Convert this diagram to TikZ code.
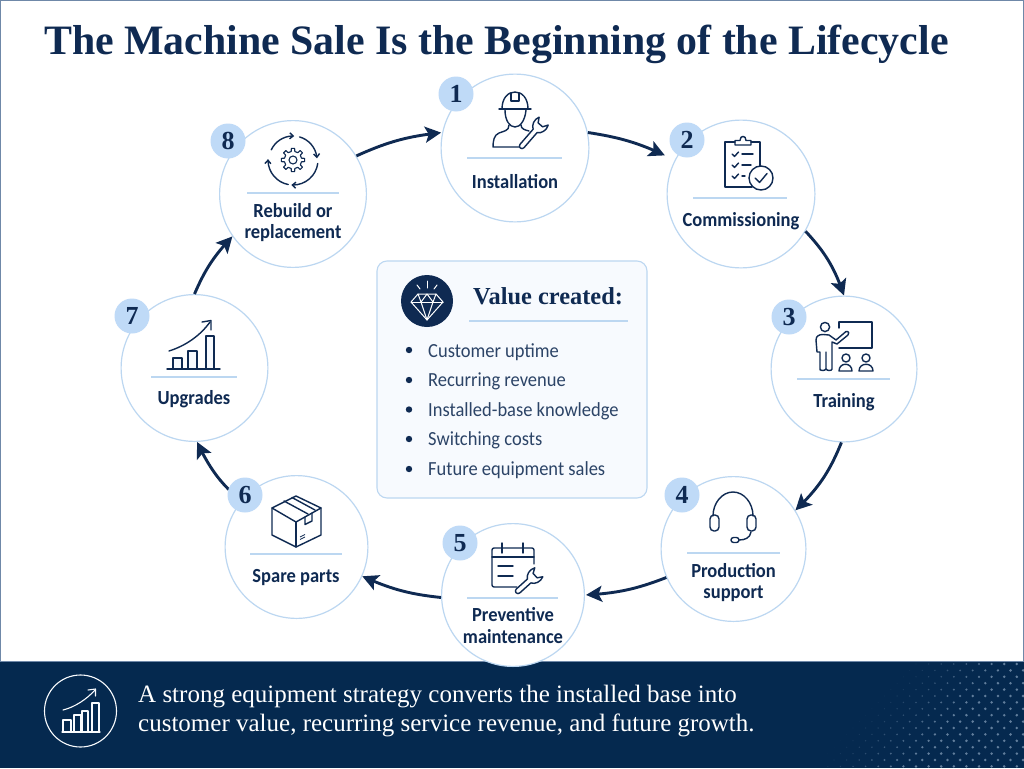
\documentclass[tikz,border=0pt]{standalone}
\usepackage{fontspec}
\setmainfont{Carlito}[FakeStretch=0.925]
\newfontfamily\serifface{Liberation Serif}
\usetikzlibrary{arrows.meta,bending}
\definecolor{navy}{HTML}{0F2A52}
\definecolor{barnavy}{HTML}{05294F}
\definecolor{ringblue}{HTML}{BCD7F1}
\definecolor{badgeblue}{HTML}{BFDAF7}
\definecolor{edgeblue}{HTML}{6F88A8}
\definecolor{panelfill}{HTML}{F7FAFE}
\definecolor{dotblue}{HTML}{BFD4EA}
\tikzset{
  stage/.style={circle,draw=ringblue,line width=1.2pt,fill=white,inner sep=0pt},
  badge/.style={circle,fill=badgeblue,minimum size=35pt,inner sep=0pt,text=navy,font=\serifface\bfseries\fontsize{26}{26}\selectfont},
  stagelabel/.style={align=center,text=navy,inner sep=0pt,font=\bfseries\fontsize{20}{21.5}\selectfont},
  flow/.style={draw=navy,line width=2.9pt,-{Stealth[length=16pt,width=16pt,inset=3.5pt,flex]}},
  rule/.style={draw=ringblue,line width=1.1pt},
  ico/.style={draw=navy,line width=1.4pt,line join=round,line cap=round},
  itemtext/.style={anchor=base west,inner sep=0pt,text=navy!88!white,font=\fontsize{20}{20}\selectfont},
  pics/wrenchicon/.style={code={
    \draw[ico,fill=white] (0,2.6) arc[start angle=90,end angle=270,radius=2.6] -- (#1-6,-2.6)
      .. controls (#1-4,-6.5) and (#1+2,-8.5) .. (#1+7,-6) -- (#1+2,-3) -- (#1+2,3) -- (#1+7,6)
      .. controls (#1+2,8.5) and (#1-4,6.5) .. (#1-6,2.6) -- cycle;
  }}
}
\begin{document}
\begin{tikzpicture}[x=1pt,y=-1pt]
\useasboundingbox (0,0) rectangle (1024,768);
\fill[white] (0,0) rectangle (1024,768);
\draw[edgeblue,line width=1.6pt] (0,768) -- (0,0) -- (1024,0) -- (1024,768);
% bottom band
\fill[barnavy] (0,661) rectangle (1024,768);
\draw[edgeblue,line width=0.8pt] (0,661) -- (1024,661);
\foreach \j in {0,...,16}{
  \foreach \i in {0,...,19}{
    \pgfmathsetmacro{\px}{790+\i*12.6+mod(\j,2)*6.3}
    \pgfmathsetmacro{\py}{664+\j*6.4}
    \pgfmathsetmacro{\sv}{\px-905+(\py-664)*0.9}
    \ifdim \sv pt>0pt
      \pgfmathsetmacro{\op}{min(0.5,\sv/190)}
      \pgfmathsetmacro{\rd}{min(1.4,0.5+\sv/120)}
      \fill[dotblue,opacity=\op] (\px,\py) circle[radius=\rd];
    \fi
  }
}
% title
\node[anchor=base west,inner sep=0pt,text=navy,font=\serifface\bfseries\fontsize{41.85}{42}\selectfont] (title) at (44,54.5) {The Machine Sale Is the Beginning of the Lifecycle};
% stage circles
\node[stage,minimum size=147.8pt] (c1) at (515,148) {};
\node[stage,minimum size=147.8pt] (c2) at (741,194) {};
\node[stage,minimum size=145.8pt] (c3) at (844,369) {};
\node[stage,minimum size=144.8pt] (c4) at (733.5,549) {};
\node[stage,minimum size=142.8pt] (c5) at (513,595) {};
\node[stage,minimum size=142.8pt] (c6) at (296.5,547) {};
\node[stage,minimum size=146.8pt] (c7) at (194.5,368) {};
\node[stage,minimum size=146.8pt] (c8) at (293,194) {};
% connectors
\draw[flow,shorten >=1pt] (c8.31) to[bend left=9] (c1.168);
\draw[flow,shorten >=11pt] (c1.12) to[bend left=9] (c2.153);
\draw[flow] (c2.-30) to[bend left=12] (c3.90);
\draw[flow] (c3.-92) to[bend left=12] (c4.32);
\draw[flow,shorten >=1pt] (c4.203) to[bend left=9] (c5.0);
\draw[flow] (c5.182) to[bend left=9] (c6.-24);
\draw[flow,shorten <=9pt] (c6.140) to[bend left=12] (c7.-88);
\draw[flow] (c7.90) to[bend left=10] (c8.215);
% badges
\node[badge] (b1) at (456,94) {1};
\node[badge] (b2) at (687,140) {2};
\node[badge] (b3) at (789,317) {3};
\node[badge] (b4) at (682,495) {4};
\node[badge] (b5) at (460,543) {5};
\node[badge] (b6) at (245,495) {6};
\node[badge] (b7) at (132,316) {7};
\node[badge] (b8) at (228,141) {8};
% dividers
\draw[rule] (467,158) -- (562,158);
\draw[rule] (693,198) -- (787,198);
\draw[rule] (797,379) -- (890,379);
\draw[rule] (687,553) -- (780,553);
\draw[rule] (467,598) -- (558,598);
\draw[rule] (250,554) -- (342,554);
\draw[rule] (151,377) -- (237,377);
\draw[rule] (247,193) -- (339,193);
% labels
\node[stagelabel] (l1) at (515,182) {Installation};
\node[stagelabel] (l2) at (741,221.5) {Commissioning};
\node[stagelabel] (l3) at (844,402.5) {Training};
\node[stagelabel] (l4) at (733.5,582.5) {Production\\support};
\node[stagelabel] (l5) at (513,625.5) {Preventive\\maintenance};
\node[stagelabel] (l6) at (296,578) {Spare parts};
\node[stagelabel] (l7) at (194,399.5) {Upgrades};
\node[stagelabel] (l8) at (293,222.5) {Rebuild or\\replacement};
% icon 1 worker
\draw[ico] (499,109) -- (531,109);
\draw[ico] (502,109) .. controls (502,98) and (508,92) .. (515,92) .. controls (522,92) and (528,98) .. (528,109);
\draw[ico] (511,93) -- (511,101) -- (519,101) -- (519,93);
\draw[ico] (505,110) .. controls (505,121) and (510,127) .. (515,127) .. controls (520,127) and (525,121) .. (526,110);
\draw[ico] (509,125) .. controls (509,131) and (504,131) .. (499,133) .. controls (494,135) and (493,141) .. (493,147) -- (522,147);
\draw[ico] (521,125) .. controls (521,129) and (525,130) .. (529,131);
\pic at (522,146) [rotate=49] {wrenchicon=26};
% icon 2 clipboard
\draw[ico] (735,142) -- (725,142) -- (725,187) -- (752,187);
\draw[ico] (751,142) -- (760,142) -- (760,166);
\draw[ico] (735,145) -- (735,140.5) -- (740,140.5) .. controls (740,135) and (746,135) .. (746,140.5) -- (751,140.5) -- (751,145) -- cycle;
\draw[ico] (732,154) -- (734.5,156.5) -- (738.5,152);
\draw[ico] (732,165) -- (734.5,167.5) -- (738.5,163);
\draw[ico] (732,176) -- (734.5,178.5) -- (738.5,174);
\draw[ico] (742,154) -- (753,154);
\draw[ico] (742,165) -- (751,165);
\draw[ico] (742,176) -- (745,176);
\draw[ico,fill=white] (761,178) circle[radius=12];
\draw[ico] (755,178) -- (759.5,182.5) -- (767,173.5);
% icon 3 training
\draw[ico] (839,322) -- (872,322) -- (872,348) -- (839,348);
\draw[ico] (839,322) -- (839,328);
\draw[ico] (825,327) circle[radius=4.6];
\draw[ico] (820,370) -- (820,352) -- (817,352) -- (816,340) .. controls (816,336) and (819,334.5) .. (823,334.5) -- (829,335) -- (836,340) -- (846,331.5) .. controls (849,331) and (849.5,334) .. (848,335) -- (837,344) -- (832,342) -- (832,369) .. controls (832,371) and (827,371) .. (826,369) -- (826,352) -- (826,369) .. controls (825,371) and (820,371) .. (820,369);
\draw[ico] (846,358) circle[radius=4];
\draw[ico] (866,358) circle[radius=4];
\draw[ico] (839,371) .. controls (839,362) and (852,362) .. (852,371) -- cycle;
\draw[ico] (859,371) .. controls (859,362) and (873,362) .. (873,371) -- cycle;
% icon 4 headset
\draw[ico] (713,516) .. controls (713,503) and (722,492) .. (733,492) .. controls (744,492) and (753,503) .. (753,516);
\draw[ico,rounded corners=4pt] (710,515) rectangle (719,531);
\draw[ico,rounded corners=4pt] (747,515) rectangle (756,531);
\draw[ico] (751,532) .. controls (750,538) and (745,540) .. (739,540);
\draw[ico,rounded corners=2.5pt] (731,537.5) rectangle (739,542.5);
% icon 5 calendar
\draw[ico,rounded corners=2pt] (534,564) -- (534,548) -- (492,548) -- (492,587) -- (517,587);
\draw[ico] (492,557) -- (534,557);
\draw[ico] (502,543) -- (502,553);
\draw[ico] (523,543) -- (523,553);
\draw[ico] (498,566) -- (513,566);
\draw[ico] (498,576) -- (513,576);
\pic at (518,591) [rotate=42] {wrenchicon=21};
% icon 6 box
\draw[ico] (296,496) -- (321,508) -- (321,535) -- (296,547) -- (272,535) -- (272,508) -- cycle;
\draw[ico] (272,508) -- (296,522) -- (321,508);
\draw[ico] (296,522) -- (296,547);
\draw[ico] (284,501) -- (308,514);
\draw[ico] (292,497.5) -- (315,510);
\draw[ico] (305,517) -- (305,524.5) -- (312,521) -- (312,513);
\draw[navy,line width=0.8pt] (300,537) -- (305,534.5) (300,539.5) -- (305,537);
% icon 7 chart
\draw[ico,fill=panelfill] (173,369) -- (173,358) -- (182,358) -- (182,369);
\draw[ico,fill=panelfill] (188,369) -- (188,351) -- (197,351) -- (197,369);
\draw[ico,fill=panelfill] (206,369) -- (206,336) -- (214,336) -- (214,369);
\draw[ico] (167,369) -- (220,369);
\draw[ico] (169,351) .. controls (185,346) and (200,336) .. (210,322);
\draw[ico] (202,322) -- (211,320.5) -- (211,330);
% icon 8 cycle
\begin{scope}[shift={(293,160)}]
  \draw[ico,-{Straight Barb[length=3.5pt,width=6pt]}] (205:24) arc[start angle=205,end angle=273,radius=24];
  \draw[ico,-{Straight Barb[length=3.5pt,width=6pt]}] (286:24) arc[start angle=286,end angle=356,radius=24];
  \draw[ico,-{Straight Barb[length=3.5pt,width=6pt]}] (8:25) arc[start angle=8,end angle=94,radius=25];
  \draw[ico,-{Straight Barb[length=3.5pt,width=6pt]}] (101:25) arc[start angle=101,end angle=182,radius=25];
  \draw[ico,line width=1.1pt] (-12:8.7) \foreach \a in {0,45,...,315}{ -- (\a-12:8.7) -- (\a-8:11.8) -- (\a+8:11.8) -- (\a+12:8.7)} -- cycle;
  \draw[ico,line width=1.1pt] (0,0) circle[radius=4];
\end{scope}
% central panel
\node[draw=ringblue,line width=1.1pt,fill=panelfill,rounded corners=10pt,minimum width=270pt,minimum height=237pt,inner sep=0pt] (panel) at (512,379.5) {};
\node[circle,fill=navy,minimum size=52pt,inner sep=0pt] (gem) at (427,301) {};
\begin{scope}[draw=white,line width=1pt,line join=round,line cap=round]
  \draw (418,294) -- (436,294) -- (443,302) -- (427,320) -- (411,302) -- cycle;
  \draw (411,302) -- (443,302);
  \draw (418,294) -- (421,302) -- (427,320) -- (433,302) -- (436,294);
  \draw (421,302) -- (427,294) -- (433,302);
  \draw (427,281) -- (427,288);
  \draw (417,285) -- (420,289);
  \draw (437,285) -- (434,289);
\end{scope}
\node[anchor=base west,inner sep=0pt,text=navy,font=\serifface\bfseries\fontsize{24.4}{26}\selectfont] (vhead) at (473,304) {Value created:};
\draw[rule] (469,321) -- (628,321);
\fill[navy] (409,350) circle[radius=3.2];
\fill[navy] (409,380) circle[radius=3.2];
\fill[navy] (409,409.5) circle[radius=3.2];
\fill[navy] (409,439) circle[radius=3.2];
\fill[navy] (409,469) circle[radius=3.2];
\node[itemtext] (i1) at (428,357.2) {Customer uptime};
\node[itemtext] (i2) at (428,386.5) {Recurring revenue};
\node[itemtext] (i3) at (428,416.2) {Installed-base knowledge};
\node[itemtext] (i4) at (428,445.5) {Switching costs};
\node[itemtext] (i5) at (428,475.5) {Future equipment sales};
% bottom icon
\node[circle,draw=white!90!badgeblue,line width=1.1pt,minimum size=72pt,inner sep=0pt] (badgeicon) at (80.5,711) {};
\begin{scope}[draw=white!90!badgeblue,line width=1.1pt,line join=round,line cap=round]
  \draw (63,732) -- (63,720) -- (71,720) -- (71,732);
  \draw (74,732) -- (74,715) -- (81,715) -- (81,732);
  \draw (82,732) -- (82,711) -- (88,711) -- (88,732);
  \draw (92,732) -- (92,703) -- (99,703) -- (99,732);
  \draw (62,732) -- (100,732);
  \draw (63,710) .. controls (75,707) and (87,699) .. (95,690);
  \draw (88,690) -- (95.5,689) -- (95.5,696);
\end{scope}
\node[anchor=west,inner sep=0pt,align=left,text=white,font=\serifface\fontsize{25}{29}\selectfont] (claim) at (138,711.5) {A strong equipment strategy converts the installed base into\\customer value, recurring service revenue, and future growth.};
\end{tikzpicture}
\end{document}
